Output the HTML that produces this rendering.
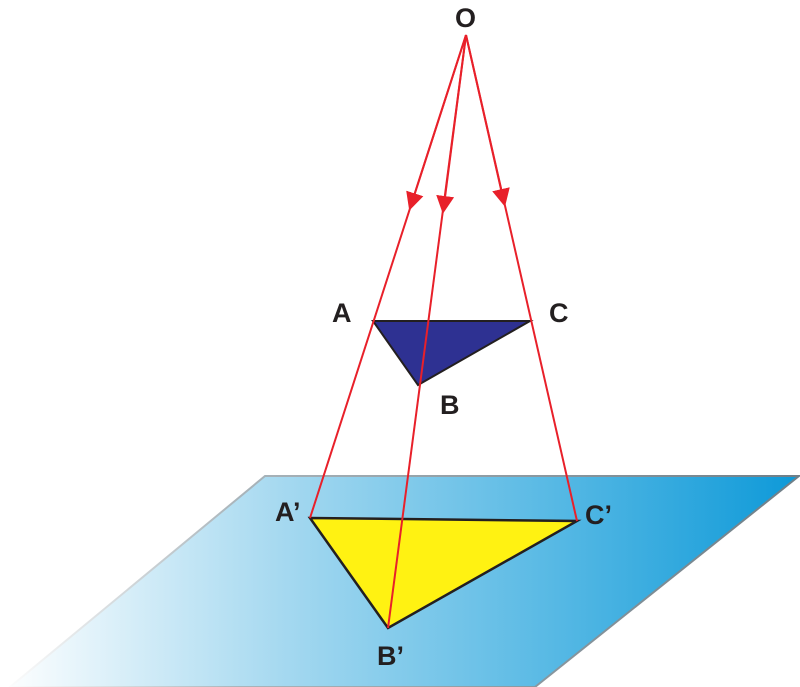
<!DOCTYPE html>
<html><head><style>
html,body{margin:0;padding:0;background:#fff;}
svg{display:block;}
text{font-family:"Liberation Sans",sans-serif;font-weight:bold;font-size:27px;fill:#231f20;}
</style></head><body>
<svg width="800" height="687" viewBox="0 0 800 687">
<defs>
<linearGradient id="g" x1="0" y1="0" x2="800" y2="0" gradientUnits="userSpaceOnUse">
<stop offset="0" stop-color="#ffffff"/>
<stop offset="0.35" stop-color="#a6d9f0"/>
<stop offset="0.7" stop-color="#55b8e4"/>
<stop offset="1" stop-color="#0d99d8"/>
</linearGradient>
<linearGradient id="gs" x1="0" y1="0" x2="800" y2="0" gradientUnits="userSpaceOnUse">
<stop offset="0" stop-color="#ffffff"/>
<stop offset="0.3" stop-color="#a9b4ba"/>
<stop offset="1" stop-color="#6f7f88"/>
</linearGradient>
<marker id="ar" viewBox="0 0 10 10" refX="5" refY="5" markerWidth="9" markerHeight="9" orient="auto">
<path d="M0,0 L10,5 L0,10 z" fill="#e8202a"/>
</marker>
</defs>
<polygon points="265,476 799,476 535,687 10,687" fill="url(#g)" stroke="url(#gs)" stroke-width="2"/>
<polygon points="310,518 577,521 388,628" fill="#fff212" stroke="#231f20" stroke-width="2.5"/>
<polygon points="373,321 530,321 418,385" fill="#2e3192" stroke="#231f20" stroke-width="2"/>
<g stroke="#e8202a" stroke-width="2" fill="none">
<line x1="466" y1="35" x2="310" y2="518"/>
<line x1="466" y1="35" x2="388" y2="628"/>
<line x1="466" y1="35" x2="577" y2="521"/>
<line x1="466" y1="35" x2="412" y2="202" marker-end="url(#ar)"/>
<line x1="466" y1="35" x2="444" y2="205" marker-end="url(#ar)"/>
<line x1="466" y1="35" x2="503" y2="198" marker-end="url(#ar)"/>
</g>
<text x="455" y="27">O</text>
<text x="332" y="322">A</text>
<text x="549" y="322">C</text>
<text x="440" y="414">B</text>
<text x="275" y="521">A’</text>
<text x="585" y="524">C’</text>
<text x="377" y="665">B’</text>
</svg>
</body></html>
